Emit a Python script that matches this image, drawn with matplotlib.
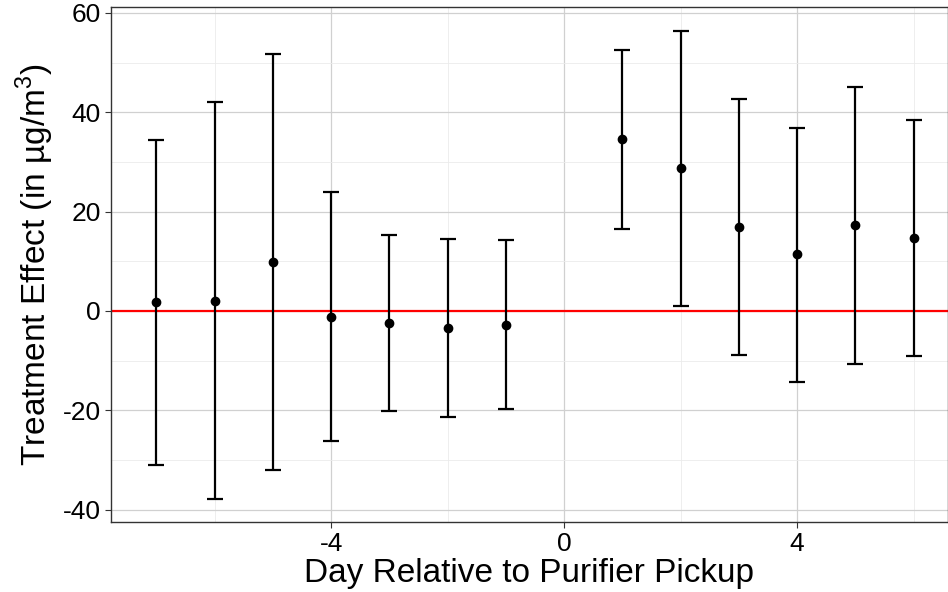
import matplotlib
matplotlib.use("Agg")
import matplotlib.pyplot as plt
from matplotlib.ticker import MultipleLocator

days = [-7, -6, -5, -4, -3, -2, -1, 1, 2, 3, 4, 5, 6]
estimate = [1.8, 2.0, 9.9, -1.2, -2.4, -3.4, -2.8, 34.6, 28.8, 16.9, 11.5, 17.3, 14.7]
upper = [34.4, 42.1, 51.7, 23.9, 15.3, 14.5, 14.3, 52.5, 56.3, 42.7, 36.8, 45.1, 38.4]
lower = [-31.0, -37.8, -32.0, -26.2, -20.1, -21.3, -19.7, 16.5, 1.0, -8.9, -14.3, -10.7, -9.1]
x_ticks = [-4, 0, 4]
y_ticks = [-40, -20, 0, 20, 40, 60]

plt.rcParams['font.family'] = ['Liberation Sans', 'DejaVu Sans']
plt.rcParams['mathtext.fontset'] = 'custom'
plt.rcParams['mathtext.rm'] = 'Liberation Sans'

fig = plt.figure(figsize=(9.48, 5.92), dpi=100)
ax = fig.add_axes([111/948, 1 - 522/592, (948 - 111)/948, (522 - 7)/592])

yerr = [[e - l for e, l in zip(estimate, lower)], [u - e for e, u in zip(estimate, upper)]]
ax.axhline(0, color='#ff0000', lw=1.6, zorder=2)
ax.errorbar(days, estimate, yerr=yerr, fmt='o', color='black', ms=6,
            elinewidth=1.6, capsize=5.5, capthick=1.6, zorder=3)

ax.set_xlim(-7.78, 6.59)
ax.set_ylim(-42.5, 61.2)
ax.xaxis.set_minor_locator(MultipleLocator(2))
ax.yaxis.set_minor_locator(MultipleLocator(10))
ax.set_xticks(x_ticks)
ax.set_xticklabels([str(v) for v in x_ticks])
ax.set_yticks(y_ticks)
ax.set_yticklabels([str(v) for v in y_ticks])
ax.grid(which='major', color='#d0d0d0', lw=0.9)
ax.grid(which='minor', color='#ebebeb', lw=0.6)
ax.set_axisbelow(True)
ax.tick_params(which='minor', length=0)
ax.tick_params(which='major', length=4, width=0.8, color='#333333', labelsize=19, labelcolor='black')
for s in ax.spines.values():
    s.set_color('#333333')
    s.set_linewidth(1.0)

ax.set_xlabel('Day Relative to Purifier Pickup', fontsize=24, labelpad=1)
ax.set_ylabel('Treatment Effect (in µg/m$^{3}$)', fontsize=24, labelpad=5)

fig.savefig('out.png', dpi=100)
